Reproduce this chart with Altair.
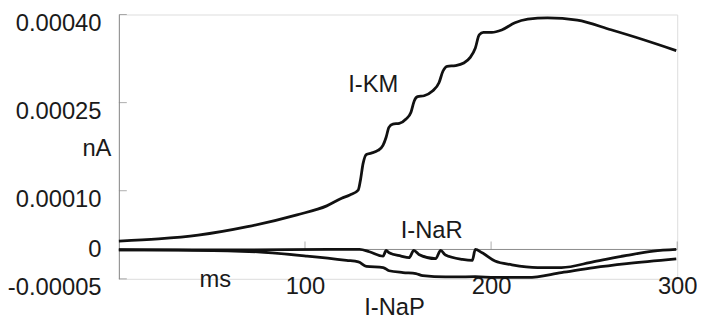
import altair as alt
import pandas as pd

# ---------------- data ----------------
X_DOMAIN = [0, 300]
Y_DOMAIN = [-0.00005, 0.0004]
X_TICKS = [100, 200, 300]
Y_TICKS = [-0.00005, 0, 0.0001, 0.00025, 0.0004]
Y_TICK_LABELS = ["-0.00005", "0", "0.00010", "0.00025", "0.00040"]
Y_TICK_MARKS = [-0.00005, 0.0001, 0.00025, 0.0004]

KM_T = [0, 21.3, 42.6, 69.1, 95.7, 111.7, 119.7, 124.1, 128.6, 129.8,
        131.2, 133.0, 135.6, 139.2, 141.9, 143.6, 145.1, 147.2, 150.7, 154.3,
        156.9, 158.7, 160.5, 164.0, 168.5, 172.0, 174.1, 176.4, 180.9, 185.3,
        188.8, 191.5, 193.6, 195.9, 200.4, 205.7, 212.8, 219.7, 230.3, 246.3,
        264.4, 281.9, 299.5]
KM_I = [1.43e-5, 1.80e-5, 2.44e-5, 3.88e-5, 5.90e-5, 7.42e-5, 8.71e-5, 9.27e-5, 10.11e-5, 11.80e-5,
        14.61e-5, 16.18e-5, 16.40e-5, 16.85e-5, 17.70e-5, 19.10e-5, 20.78e-5, 21.35e-5, 21.46e-5, 22.20e-5,
        23.31e-5, 25.28e-5, 26.01e-5, 26.17e-5, 26.97e-5, 28.37e-5, 30.34e-5, 31.18e-5, 31.30e-5, 31.74e-5,
        32.70e-5, 34.26e-5, 36.52e-5, 36.96e-5, 36.96e-5, 37.37e-5, 38.60e-5, 39.20e-5, 39.44e-5, 39.05e-5,
        37.40e-5, 35.70e-5, 33.85e-5]

NAR_T = [0, 63.8, 117.0, 129.3, 134.6, 142.0, 143.6, 145.2, 151.6, 155.9,
         158.5, 161.2, 170.2, 172.9, 175.5, 184.6, 189.9, 191.5, 195.2, 202.1,
         211.2, 225.0, 237.8, 255.3, 272.9, 287.2, 299.5]
NAR_I = [-0.08e-5, -0.08e-5, 0.0, 0.0, -0.39e-5, -1.13e-5, -0.17e-5, -0.56e-5, -1.13e-5, -1.40e-5,
         -0.17e-5, -0.84e-5, -1.57e-5, -0.17e-5, -0.96e-5, -1.69e-5, -1.85e-5, 0.0, -0.56e-5, -1.97e-5,
         -2.61e-5, -3.08e-5, -3.08e-5, -2.07e-5, -1.01e-5, -0.29e-5, 0.0]

NAP_T = [0, 31.9, 58.5, 74.5, 101.1, 122.3, 128.7, 133.0, 142.0, 145.2,
         152.7, 159.6, 163.3, 175.5, 180.9, 191.5, 202.1, 219.7, 237.8, 255.3,
         272.9, 299.5]
NAP_I = [-0.05e-5, -0.13e-5, -0.22e-5, -0.42e-5, -1.13e-5, -1.85e-5, -2.10e-5, -2.87e-5, -3.08e-5, -3.62e-5,
         -3.93e-5, -4.10e-5, -4.47e-5, -4.67e-5, -4.67e-5, -4.63e-5, -4.77e-5, -4.77e-5, -3.93e-5, -3.08e-5,
         -2.41e-5, -1.60e-5]

LABELS = ["I-KM", "I-NaR", "I-NaP"]
LABEL_T = [136.7, 168.1, 148.1]
LABEL_I = [2.80e-4, 3.2e-5, -9.9e-5]

# ---------------- tables ----------------
lines = pd.concat([
    pd.DataFrame({"t": KM_T, "i": KM_I, "s": "I-KM"}),
    pd.DataFrame({"t": NAR_T, "i": NAR_I, "s": "I-NaR"}),
    pd.DataFrame({"t": NAP_T, "i": NAP_I, "s": "I-NaP"}),
], ignore_index=True)
labels = pd.DataFrame({"t": LABEL_T, "i": LABEL_I, "label": LABELS})
xaxis_line = pd.DataFrame({"t": [X_DOMAIN[0]], "t2": [X_DOMAIN[1]], "i": [0.0]})
xticks = pd.DataFrame({"t": X_TICKS, "i": [0.0] * len(X_TICKS)})
yticks = pd.DataFrame({"t": [X_DOMAIN[0]] * len(Y_TICK_MARKS), "i": Y_TICK_MARKS})

FONT = "Liberation Sans"
FS = 24
TXT = "#1a1a1a"
GRAY = "#8a8a8a"

label_expr = " : ".join(
    f"datum.value == {v} ? '{l}'" for v, l in zip(Y_TICKS, Y_TICK_LABELS)
) + " : ''"

X = alt.X(
    "t:Q",
    scale=alt.Scale(domain=X_DOMAIN, nice=False, zero=False),
    axis=alt.Axis(
        values=X_TICKS, domain=False, ticks=False, tickSize=0, grid=False,
        labelFont=FONT, labelFontSize=FS, labelColor=TXT, labelBaseline="alphabetic",
        labelPadding=15, labelAngle=0, labelFlush=False, labelOverlap=False,
        title="ms", titleFont=FONT, titleFontSize=FS, titleFontWeight="normal",
        titleColor=TXT, titleX=97, titleY=8, titleBaseline="alphabetic", titleAlign="center",
    ),
)
Y = alt.Y(
    "i:Q",
    scale=alt.Scale(domain=Y_DOMAIN, nice=False, zero=False),
    axis=alt.Axis(
        values=Y_TICKS, labelExpr=label_expr, domain=True, domainColor=GRAY, domainWidth=1,
        ticks=False, tickSize=0, grid=False,
        labelFont=FONT, labelFontSize=FS, labelColor=TXT, labelBaseline="alphabetic",
        labelOffset={"condition": {"test": "datum.value == 0", "value": 7}, "value": 16},
        labelPadding=18, labelFlush=False, labelOverlap=False, labelAlign="right",
        title="nA", titleFont=FONT, titleFontSize=FS, titleFontWeight="normal", titleColor=TXT,
        titleAngle=0, titleAlign="right", titleBaseline="alphabetic", titleX=-8, titleY=142,
    ),
)

axis_rule = alt.Chart(xaxis_line).mark_rule(color=GRAY, strokeWidth=1).encode(
    x=X, x2="t2:Q", y=Y
)
xtick_layer = alt.Chart(xticks).mark_tick(
    orient="vertical", size=8, thickness=1, color=GRAY, yOffset=-4
).encode(x=X, y=Y)
ytick_layer = alt.Chart(yticks).mark_tick(
    orient="horizontal", size=8, thickness=1, color=GRAY, xOffset=4
).encode(x=X, y=Y)

curves = alt.Chart(lines).mark_line(
    color="#111111", strokeWidth=2.8, interpolate="monotone"
).encode(x=X, y=Y, detail="s:N")

texts = alt.Chart(labels).mark_text(
    font=FONT, fontSize=FS, color=TXT, align="center", baseline="middle"
).encode(x=X, y=Y, text="label:N")

chart = alt.layer(axis_rule, xtick_layer, ytick_layer, curves, texts).properties(
    width=564,
    height=267,
    autosize=alt.AutoSizeParams(type="none"),
    padding={"left": 112, "top": 5, "right": 20, "bottom": 39},
).configure_view(stroke=None).configure(background="white")

chart.save("out.html", embed_options={"renderer": "svg", "actions": False})
